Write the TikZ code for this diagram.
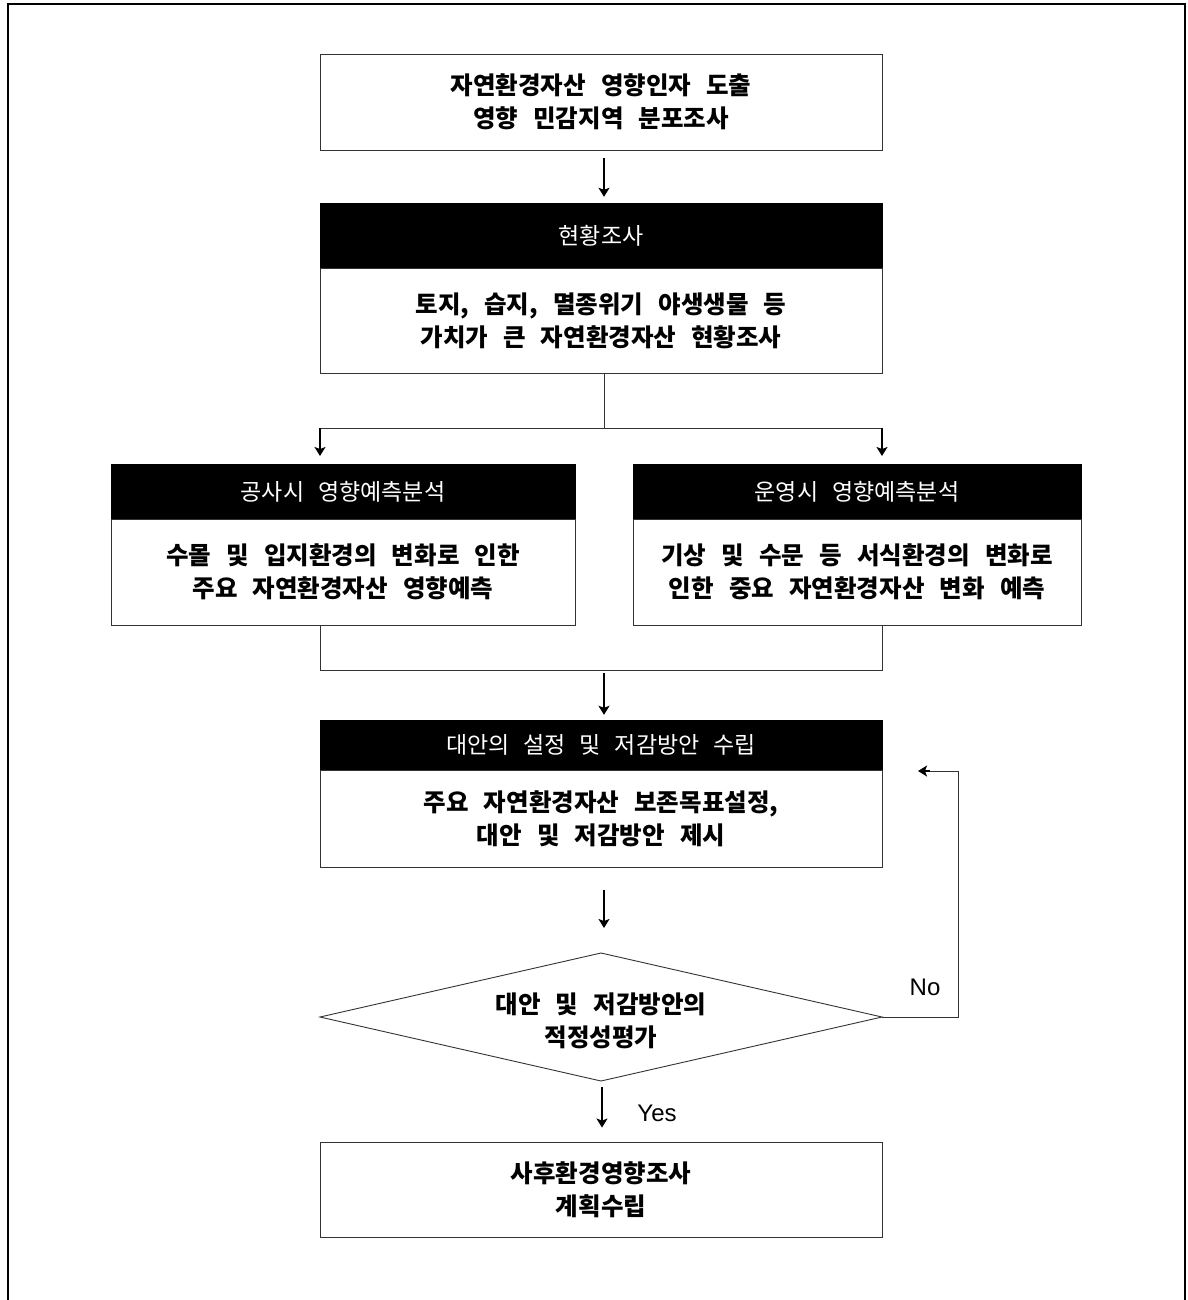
\documentclass[tikz,border=0pt]{standalone}
\usepackage{fontspec}
\setmainfont{Noto Sans CJK KR}[WordSpace=2.7]
\newfontfamily\latinfont{Liberation Sans}
\usetikzlibrary{arrows.meta}
\tikzset{
  box/.style={draw=black!80, line width=0.9pt, fill=white, align=center, inner sep=0pt, font=\fontsize{24.5}{33}\selectfont\bfseries},
  head/.style={draw=black, fill=black, text=white, align=center, inner sep=0pt, font=\fontsize{23}{30}\selectfont},
  conn/.style={draw=black!80, line width=0.9pt},
  arr/.style={draw=black, line width=1.5pt, -{Stealth[length=9pt,width=11pt,inset=2pt]}},
  lab/.style={font=\latinfont\fontsize{24}{28}\selectfont, inner sep=0pt}
}
\begin{document}
\begin{tikzpicture}[x=1pt,y=-1pt]
\useasboundingbox (0,0) rectangle (1187,1300);
% outer frame
\draw[line width=2pt] (8,1300) -- (8,4) -- (1185,4) -- (1185,1300);
% box 1
\node[box, minimum width=562pt, minimum height=96pt] (b1) at (601,102) {자연환경자산 영향인자 도출\\영향 민감지역 분포조사};
% box 2
\node[head, minimum width=562pt, minimum height=65pt] (h2) at (601,235.5) {현황조사};
\node[box, minimum width=562pt, minimum height=105pt] (b2) at (601,320.5) {토지, 습지, 멸종위기 야생생물 등\\가치가 큰 자연환경자산 현황조사};
% left
\node[head, minimum width=464pt, minimum height=55pt] (hL) at (343,491.5) {공사시 영향예측분석};
\node[box, minimum width=464pt, minimum height=106pt] (bL) at (343,572) {수몰 및 입지환경의 변화로 인한\\주요 자연환경자산 영향예측};
% right
\node[head, minimum width=448pt, minimum height=55pt] (hR) at (857,491.5) {운영시 영향예측분석};
\node[box, minimum width=448pt, minimum height=106pt] (bR) at (857,572) {기상 및 수문 등 서식환경의 변화로\\인한 중요 자연환경자산 변화 예측};
% box 4
\node[head, minimum width=562pt, minimum height=50pt] (h4) at (601,745) {대안의 설정 및 저감방안 수립};
\node[box, minimum width=562pt, minimum height=97pt] (b4) at (601,818.5) {주요 자연환경자산 보존목표설정,\\대안 및 저감방안 제시};
% diamond
\coordinate (dT) at (601,953);
\coordinate (dB) at (601,1081);
\coordinate (dL) at (320,1017);
\coordinate (dR) at (882,1017);
\draw[conn] (dT) -- (dR) -- (dB) -- (dL) -- cycle;
\node[align=center, inner sep=0pt, font=\fontsize{24.5}{33}\selectfont\bfseries] (dia) at (601,1021) {대안 및 저감방안의\\적정성평가};
% final box
\node[box, minimum width=562pt, minimum height=95pt] (b5) at (601,1189.5) {사후환경영향조사\\계획수립};
% connectors
\draw[arr] ([xshift=3pt,yshift=-8pt]b1.south) -- ([xshift=3pt,yshift=6pt]h2.north);
\coordinate (sp) at (604,428);
\coordinate (aL) at (320,428);
\coordinate (aR) at (882,428);
\coordinate (aLe) at (320,456);
\coordinate (aRe) at (882,456);
\draw[conn] ([xshift=3pt]b2.south) -- (sp);
\draw[conn] (aL) -- (aR);
\draw[arr] (aL) -- (aLe);
\draw[arr] (aR) -- (aRe);
\coordinate (mL) at (320,670);
\coordinate (mR) at (882,670);
\draw[conn] (320,625) -- (mL) -- (mR) -- (882,625);
\coordinate (m4) at (604,673);
\draw[arr] (m4) -- ([xshift=3pt,yshift=5pt]h4.north);
\draw[arr] ([xshift=3pt,yshift=-23pt]b4.south) -- ([xshift=3pt,yshift=25pt]dT);
\coordinate (nE) at (918,771);
\draw[conn] (dR) -- (958,1017) -- (958,771) -- (930,771);
\draw[arr] (930,771) -- (nE);
\node[lab] (no) at (925,987) {No};
\draw[arr] ([xshift=1pt,yshift=-6pt]dB) -- ([xshift=1pt,yshift=14pt]b5.north);
\node[lab] (yes) at (657,1113) {Yes};
\end{tikzpicture}
\end{document}
